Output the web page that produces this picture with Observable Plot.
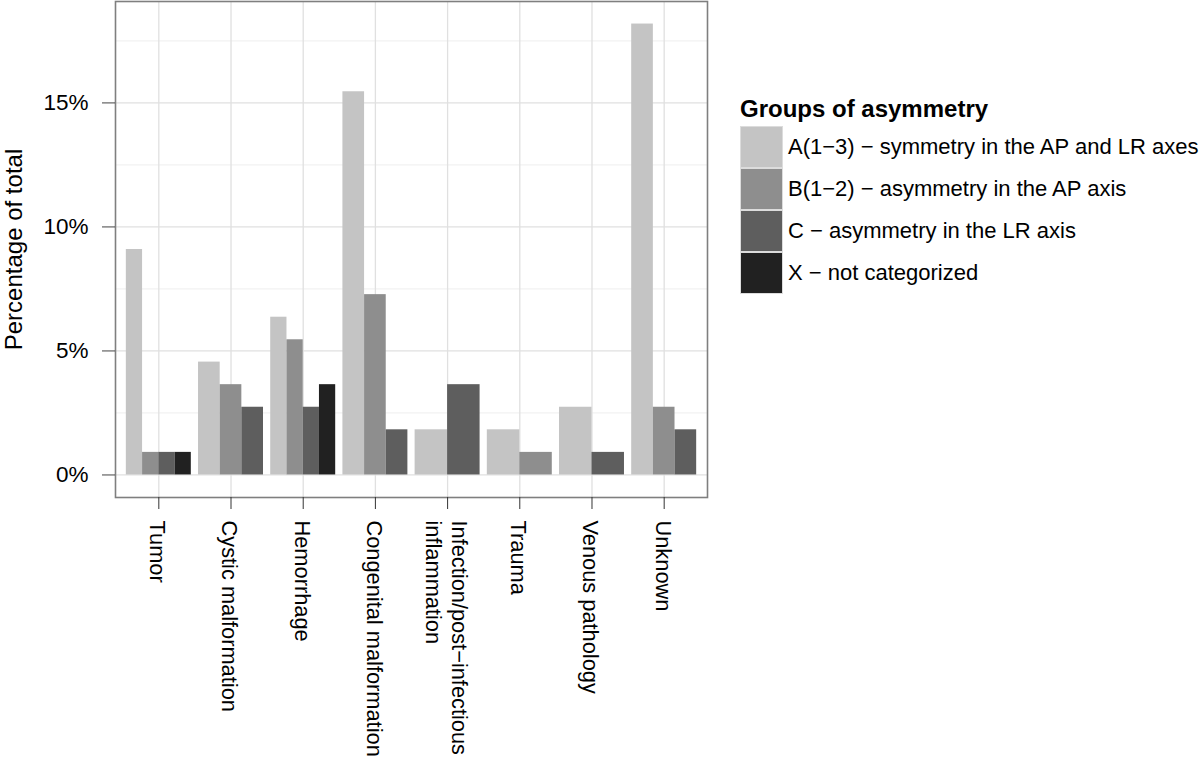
<!DOCTYPE html>
<html>
<head>
<meta charset="utf-8">
<script src="https://cdn.jsdelivr.net/npm/d3@7"></script>
<script src="https://cdn.jsdelivr.net/npm/@observablehq/plot@0.6"></script>
<style>
  body { margin: 0; background: #fff; font-family: "Liberation Sans", Arial, Helvetica, sans-serif; }
  #wrap { position: relative; width: 1200px; height: 757px; overflow: hidden; }
  #legend { position: absolute; left: 740px; top: 96px; color: #000; }
  #legend .title { font-weight: bold; font-size: 24px; line-height: 26px; height: 30px; white-space: nowrap; }
  #legend .row { display: flex; align-items: center; height: 42px; }
  #legend .key { width: 43px; height: 42px; box-sizing: border-box; border: 1px solid #dcdcdc; }
  #legend .lab { font-size: 22px; margin-left: 5px; white-space: nowrap; }
</style>
</head>
<body>
<div id="wrap"></div>
<script>
// ---- data ----
const categories = [
  "Tumor",
  "Cystic malformation",
  "Hemorrhage",
  "Congenital malformation",
  "Infection/post\u2212infectious\ninflammation",
  "Trauma",
  "Venous pathology",
  "Unknown"
];
const groups = [
  "A(1\u22123) \u2212 symmetry in the AP and LR axes",
  "B(1\u22122) \u2212 asymmetry in the AP axis",
  "C \u2212 asymmetry in the LR axis",
  "X \u2212 not categorized"
];
const groupA = [9.09, 4.55, 6.36, 15.45, 1.82, 1.82, 2.73, 18.18];
const groupB = [0.91, 3.64, 5.45, 7.27, null, 0.91, null, 2.73];
const groupC = [0.91, 2.73, 2.73, 1.82, 3.64, null, 0.91, 1.82];
const groupX = [0.91, null, 3.64, null, null, null, null, null];
const fills = ["#c4c4c4", "#8e8e8e", "#5e5e5e", "#212121"];
const yTicks = [0, 5, 10, 15];
const yMinor = [2.5, 7.5, 12.5, 17.5];
const yLabel = "Percentage of total";
const legendTitle = "Groups of asymmetry";

// ---- dodge layout (ggplot position_dodge, width 0.9) in data units ----
const series = [groupA, groupB, groupC, groupX];
const bars = [];
categories.forEach((c, i) => {
  const present = groups.map((g, k) => ({g, v: series[k][i]})).filter(d => d.v != null);
  const n = present.length, w = 0.9 / n;
  present.forEach((d, j) => bars.push({
    group: d.g, value: d.v,
    x1: i + 1 - 0.45 + j * w,
    x2: i + 1 - 0.45 + (j + 1) * w
  }));
});
const catPos = d3.range(1, categories.length + 1);
const yMax = d3.max(bars, d => d.value);
const pad = yMax * 0.05;

const chart = Plot.plot({
  width: 1200,
  height: 757,
  marginLeft: 115,
  marginRight: 493,
  marginTop: 1,
  marginBottom: 260,
  style: { fontFamily: "'Liberation Sans', Arial, Helvetica, sans-serif", fontSize: "22px", background: "#fff", color: "#000" },
  x: { domain: [0.4, categories.length + 0.6] },
  y: { domain: [-pad, yMax + pad] },
  color: { domain: groups, range: fills },
  marks: [
    Plot.ruleY(yMinor, { stroke: "#f2f2f2", strokeWidth: 1.3 }),
    Plot.ruleY(yTicks, { stroke: "#e0e0e0", strokeWidth: 1.3 }),
    Plot.ruleX(catPos, { stroke: "#e0e0e0", strokeWidth: 1.3 }),
    Plot.rect(bars, { x1: "x1", x2: "x2", y1: 0, y2: "value", fill: "group" }),
    Plot.frame({ stroke: "#7f7f7f", strokeWidth: 1.6 }),
    Plot.axisY(yTicks, { tickFormat: d => d + "%", tickSize: 13, tickPadding: 14, label: null, stroke: "#444", fill: "#000", fontSize: 22.5 }),
    Plot.axisX(catPos, { tickFormat: d => categories[d - 1], tickSize: 12, tickPadding: 11, tickRotate: 90, label: null, stroke: "#333", fill: "#000", fontSize: 21.8, lineHeight: 1.22 }),
    Plot.text([yLabel], { frameAnchor: "left", rotate: -90, dx: -101, fontSize: 24, textAnchor: "middle", lineAnchor: "middle", fill: "#000" })
  ]
});

const wrap = document.getElementById("wrap");
wrap.appendChild(chart);

// ---- legend ----
const legend = d3.select(wrap).append("div").attr("id", "legend");
legend.append("div").attr("class", "title").text(legendTitle);
const rows = legend.selectAll(".row").data(groups).join("div").attr("class", "row");
rows.append("div").attr("class", "key").style("background", (d, i) => fills[i]);
rows.append("div").attr("class", "lab").text(d => d);
</script>
</body>
</html>
